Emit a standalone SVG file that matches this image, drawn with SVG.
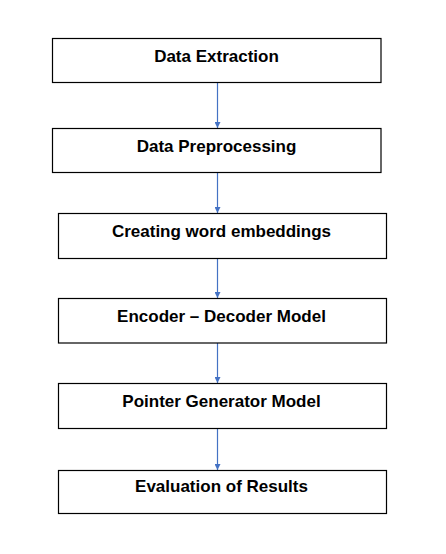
<svg xmlns="http://www.w3.org/2000/svg" width="446" height="554" viewBox="0 0 446 554">
<style>
.box{fill:#fff;stroke:#000;stroke-width:1.2}
.lbl{font-family:"Liberation Sans",Arial,sans-serif;font-weight:bold;font-size:17px;fill:#000;text-anchor:middle}
.edge{stroke:#4472C4;stroke-width:1.2;fill:none;marker-end:url(#ah)}
</style>
<defs>
<marker id="ah" viewBox="0 0 10 10" refX="10" refY="5" markerWidth="6" markerHeight="6" markerUnits="userSpaceOnUse" orient="auto">
<path d="M0,0 L10,5 L0,10 z" fill="#4472C4"/>
</marker>
</defs>
<rect width="446" height="554" fill="#fff"/>
<g id="connectors">
<line class="edge" x1="217.5" y1="82.5" x2="217.5" y2="128"/>
<line class="edge" x1="217.5" y1="172.5" x2="217.5" y2="213"/>
<line class="edge" x1="217.5" y1="258.5" x2="217.5" y2="298"/>
<line class="edge" x1="217.5" y1="343" x2="217.5" y2="383"/>
<line class="edge" x1="217.5" y1="428.5" x2="217.5" y2="470"/>
</g>
<g id="n1"><rect class="box" x="52.5" y="38.5" width="328.5" height="44"/><text class="lbl" x="216.5" y="62">Data Extraction</text></g>
<g id="n2"><rect class="box" x="52.5" y="128.5" width="328.5" height="44"/><text class="lbl" x="216.5" y="152">Data Preprocessing</text></g>
<g id="n3"><rect class="box" x="58.5" y="213.5" width="328" height="45"/><text class="lbl" x="221.5" y="237">Creating word embeddings</text></g>
<g id="n4"><rect class="box" x="58.5" y="298.5" width="328" height="44.5"/><text class="lbl" x="221.5" y="322">Encoder – Decoder Model</text></g>
<g id="n5"><rect class="box" x="58.5" y="383.5" width="328" height="45"/><text class="lbl" x="221.5" y="407">Pointer Generator Model</text></g>
<g id="n6"><rect class="box" x="58.5" y="470.5" width="328" height="43"/><text class="lbl" x="221.5" y="492">Evaluation of Results</text></g>
</svg>
